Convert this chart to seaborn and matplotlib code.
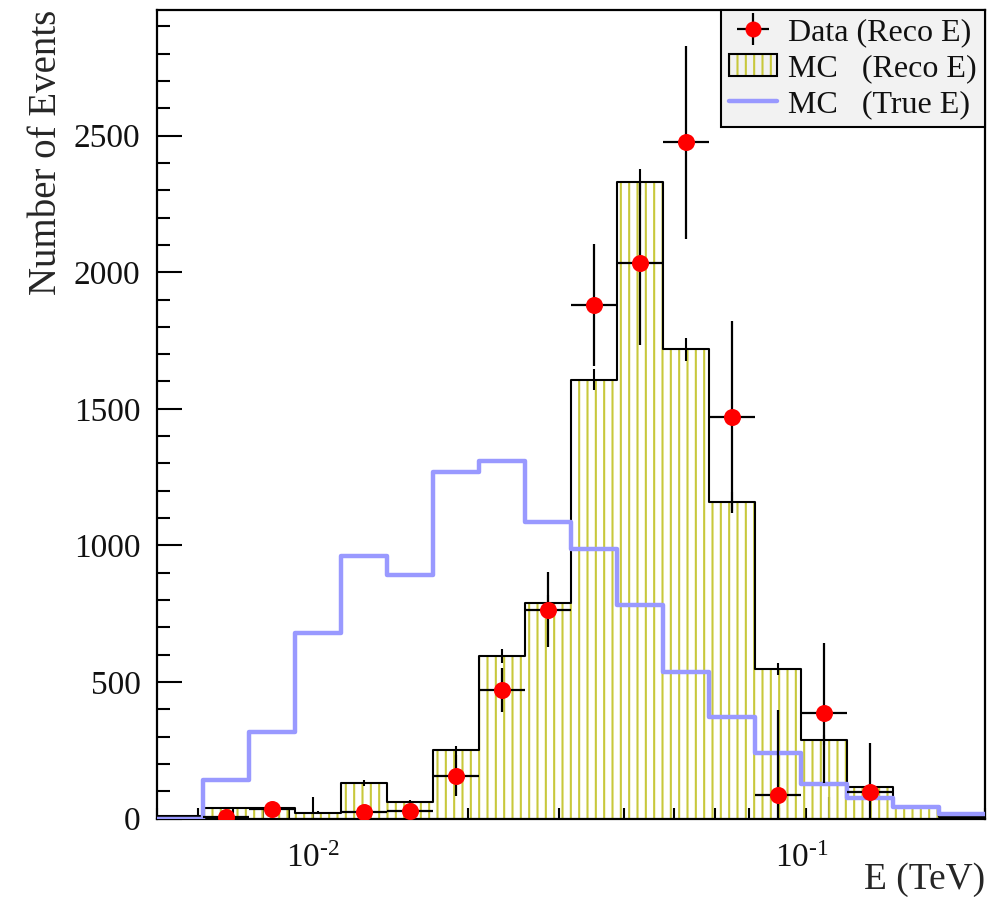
import numpy as np
import matplotlib
matplotlib.use("Agg")
import matplotlib.pyplot as plt
import matplotlib.patches as mpatches
from matplotlib.lines import Line2D
from matplotlib.ticker import MultipleLocator, FixedLocator, LogLocator, NullFormatter, FixedFormatter
from matplotlib.transforms import ScaledTranslation
import seaborn as sns

# Energy binning (TeV): 18 logarithmic bins
e_min, e_max, n_bins = 0.005, 0.2, 18

# Simulated spectrum with reconstructed energy
mc_reco = [8, 37, 37, 21, 129, 59, 250, 595, 790, 1607, 2331, 1717, 1160, 548, 287, 114, 43, 5]
mc_reco_err = [3, 6, 6, 5, 11, 8, 16, 24, 28, 40, 48, 41, 34, 23, 17, 11, 7, 2]

# Simulated spectrum with true energy
mc_true = [0, 141, 317, 679, 961, 892, 1270, 1307, 1087, 986, 782, 537, 373, 239, 126, 74, 41, 16]

# Measured events (reconstructed energy); NaN = empty bin
data = [np.nan, 5, 34, np.nan, 25, 28, 156, 471, 765, 1880, 2034, 2475, 1470, 86, 387, 98, np.nan, np.nan]
data_err = [np.nan, 25, 25, np.nan, 20, 20, 75, 80, 137, 223, 300, 352, 350, 310, 257, 178, np.nan, np.nan]

y_ticks = [0, 500, 1000, 1500, 2000, 2500]
x_ticks = [0.01, 0.1]
x_tick_labels = [r"$\mathregular{10^{\text{-}2}}$", r"$\mathregular{10^{\text{-}1}}$"]
legend_labels = ["Data (Reco E)", "MC   (Reco E)", "MC   (True E)"]

hatch_col = "#c8c83c"
true_col = "#9999ff"

sns.set_theme(style="white")
plt.rcParams.update({
    "font.family": ["Liberation Serif", "DejaVu Serif"],
    "mathtext.fontset": "custom",
    "mathtext.rm": "Liberation Serif",
    "hatch.linewidth": 1.5,
    "axes.linewidth": 1.6,
    "axes.edgecolor": "black",
    "text.color": "#111111",
    "xtick.color": "black",
    "ytick.color": "black",
    "xtick.labelcolor": "#111111",
    "ytick.labelcolor": "#111111",
})

log_edges = np.linspace(np.log10(e_min), np.log10(e_max), n_bins + 1)
edges = 10 ** log_edges
centers = 10 ** (0.5 * (log_edges[:-1] + log_edges[1:]))
bin_list = [float(b) for b in log_edges]

fig = plt.figure(figsize=(10.08, 8.97), dpi=100)
ax = fig.add_axes([0.1558, 0.0875, 0.8214, 0.9014])

# MC (reco E): hatched fill, black outline, stat errors
sns.histplot(x=centers, weights=mc_reco, bins=bin_list, log_scale=True,
             element="step", fill=True, color=hatch_col, facecolor="none",
             edgecolor=hatch_col, linewidth=0, hatch="||", alpha=1, ax=ax, zorder=1)
sns.histplot(x=centers, weights=mc_reco, bins=bin_list, log_scale=True,
             element="step", fill=False, color="black", linewidth=1.5,
             ax=ax, zorder=2)
ax.errorbar(centers, mc_reco, yerr=mc_reco_err, fmt="none", ecolor="black",
            elinewidth=1.5, capsize=0, zorder=2)

# MC (true E)
sns.histplot(x=centers, weights=mc_true, bins=bin_list, log_scale=True,
             element="step", fill=False, color=true_col, linewidth=3.2,
             ax=ax, zorder=3)

# Data points with bin-width x errors
d = np.array(data, dtype=float)
de = np.array(data_err, dtype=float)
ok = ~np.isnan(d)
cx = centers[ok]
lo = edges[:-1][ok]
hi = edges[1:][ok]
data_eb = ax.errorbar(cx, d[ok], xerr=[cx - lo, hi - cx], yerr=de[ok], fmt="none",
                      ecolor="black", elinewidth=1.6, capsize=0, zorder=4)
sns.scatterplot(x=cx, y=d[ok], color="red", s=150, linewidth=0, ax=ax, zorder=5)

ax.set_xscale("log")
ax.set_xlim(e_min, e_max)
ax.set_ylim(0, 2960)

# Axis ticks (inward, bottom and left only)
ax.xaxis.set_major_locator(FixedLocator(x_ticks))
ax.xaxis.set_major_formatter(FixedFormatter(x_tick_labels))
ax.xaxis.set_minor_locator(LogLocator(base=10, subs=np.arange(2, 10)))
ax.xaxis.set_minor_formatter(NullFormatter())
ax.yaxis.set_major_locator(FixedLocator(y_ticks))
ax.yaxis.set_minor_locator(MultipleLocator(100))
ax.set_yticklabels([str(v) for v in y_ticks])
ax.tick_params(axis="both", which="both", direction="in", bottom=True, left=True,
               top=False, right=False, width=1.5, color="black")
ax.tick_params(axis="x", which="major", length=16, labelsize=24, pad=18)
ax.tick_params(axis="x", which="minor", length=8)
ax.tick_params(axis="y", which="major", length=18, labelsize=24, pad=12)
ax.tick_params(axis="y", which="minor", length=9)
for lbl in ax.get_xticklabels():
    if lbl.get_text() == x_tick_labels[1]:
        lbl.set_transform(lbl.get_transform() + ScaledTranslation(-0.28, 0, fig.dpi_scale_trans))

ax.set_xlabel("E (TeV)", fontsize=27, loc="right")
ax.xaxis.set_label_coords(1.0, -0.054)
ax.set_ylabel("Number of Events", fontsize=28, loc="top")
ax.yaxis.set_label_coords(-0.111, 1.0)

for s in ax.spines.values():
    s.set_visible(True)
    s.set_color("black")
    s.set_linewidth(1.6)

# Legend
marker_proxy = Line2D([], [], ls="none", marker="o", color="red", markersize=11.5, markeredgewidth=0)
hatch_proxy = mpatches.Patch(facecolor="none", edgecolor=hatch_col, linewidth=0, hatch="||")
frame_proxy = mpatches.Patch(facecolor="none", edgecolor="black", linewidth=1.5)
true_proxy = Line2D([], [], color=true_col, lw=3.2)
leg = ax.legend([(data_eb, marker_proxy), (hatch_proxy, frame_proxy), true_proxy], legend_labels,
                loc="upper right", bbox_to_anchor=(1.0, 1.0), borderaxespad=0, frameon=True,
                fancybox=False, facecolor="#f2f2f2", edgecolor="black", framealpha=1,
                fontsize=23, handlelength=1.5, handletextpad=0.35, borderpad=0.25,
                labelspacing=0.2)
leg.get_frame().set_linewidth(1.5)

fig.savefig("out.png", dpi=100)
